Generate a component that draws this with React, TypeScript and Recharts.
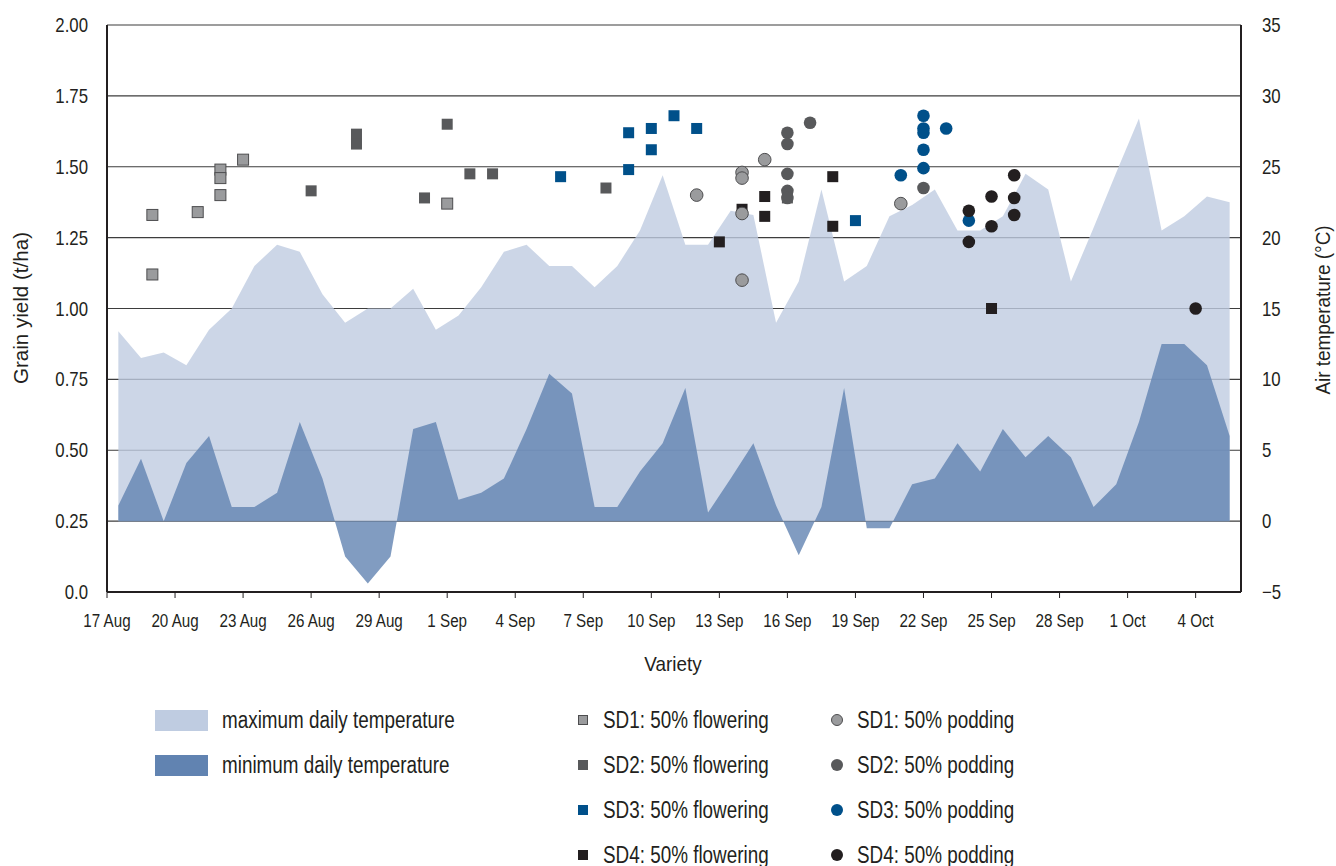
import React from 'react'
import { ComposedChart, Area, Scatter, XAxis, YAxis, CartesianGrid } from 'recharts'

const FONT = "'Liberation Sans', Arial, sans-serif"
const INK = '#231f20'

// x axis: days since 17 Aug, ticks every 3 days
const dayTicks = [0, 3, 6, 9, 12, 15, 18, 21, 24, 27, 30, 33, 36, 39, 42, 45, 48]
const dayLabels = ['17 Aug', '20 Aug', '23 Aug', '26 Aug', '29 Aug', '1 Sep', '4 Sep', '7 Sep', '10 Sep',
  '13 Sep', '16 Sep', '19 Sep', '22 Sep', '25 Sep', '28 Sep', '1 Oct', '4 Oct']
const yieldTicks = [0, 0.25, 0.5, 0.75, 1, 1.25, 1.5, 1.75, 2]
const tempTicks = [-5, 0, 5, 10, 15, 20, 25, 30, 35]

// daily temperatures (°C), 17 Aug .. 5 Oct
const maxTemp = [13.4, 11.5, 11.9, 11.0, 13.5, 15.0, 18.0, 19.5, 19.0, 16.0,
  14.0, 15.0, 15.0, 16.4, 13.5, 14.5, 16.5, 19.0, 19.5, 18.0,
  18.0, 16.5, 18.0, 20.5, 24.4, 19.5, 19.5, 21.9, 21.6, 14.0,
  16.9, 23.4, 16.9, 18.0, 21.5, 22.3, 23.4, 20.5, 20.5, 21.5,
  24.5, 23.4, 16.9, 20.7, 24.6, 28.4, 20.5, 21.5, 22.9, 22.5]
const minTemp = [1.1, 4.4, 0.0, 4.1, 6.0, 1.0, 1.0, 2.0, 7.0, 3.0,
  -2.5, -4.4, -2.5, 6.5, 7.0, 1.5, 2.0, 3.0, 6.5, 10.4,
  9.0, 1.0, 1.0, 3.5, 5.5, 9.4, 0.6, 3.0, 5.5, 1.1,
  -2.4, 1.0, 9.4, -0.5, -0.5, 2.6, 3.0, 5.5, 3.5, 6.5,
  4.5, 6.0, 4.5, 1.0, 2.6, 7.0, 12.5, 12.5, 11.0, 6.0]

// grain yield points: [day, t/ha]
const sd1Flowering = [[2, 1.33], [2, 1.12], [4, 1.34], [5, 1.49], [5, 1.46], [5, 1.40], [6, 1.525], [15, 1.37]]
const sd2Flowering = [[9, 1.415], [11, 1.615], [11, 1.58], [14, 1.39], [15, 1.65], [16, 1.475], [17, 1.475], [22, 1.425], [30, 1.39]]
const sd3Flowering = [[20, 1.465], [23, 1.62], [23, 1.49], [24, 1.635], [24, 1.56], [25, 1.68], [26, 1.635], [33, 1.31]]
const sd4Flowering = [[27, 1.235], [28, 1.35], [29, 1.395], [29, 1.325], [32, 1.465], [32, 1.29], [39, 1.0]]
const sd1Podding = [[26, 1.40], [28, 1.48], [28, 1.46], [28, 1.335], [28, 1.10], [29, 1.525], [35, 1.37]]
const sd2Podding = [[30, 1.62], [30, 1.58], [30, 1.475], [30, 1.415], [30, 1.39], [31, 1.655], [36, 1.425]]
const sd3Podding = [[35, 1.47], [36, 1.68], [36, 1.635], [36, 1.62], [36, 1.56], [36, 1.495], [37, 1.635], [38, 1.31]]
const sd4Podding = [[38, 1.345], [38, 1.235], [39, 1.395], [39, 1.29], [40, 1.47], [40, 1.39], [40, 1.33], [48, 1.0]]

const areaData = maxTemp.map((v, i) => ({ d: i + 0.5, max: v, min: minTemp[i] }))
const pts = (arr: number[][]) => arr.map(([d, y]) => ({ d, y }))

const C1 = '#9a9b9d', C2 = '#58595b', C3 = '#00508a', C4 = '#231f20'

const square = (fill: string, stroke?: string) => (p: any) =>
  <rect x={p.cx - 5.5} y={p.cy - 5.5} width={11} height={11} fill={fill} stroke={stroke ?? 'none'} strokeWidth={1} />
const dot = (fill: string, stroke?: string) => (p: any) =>
  <circle cx={p.cx} cy={p.cy} r={6.3} fill={fill} stroke={stroke ?? 'none'} strokeWidth={1} />

const flowering = [
  { name: 'SD1: 50% flowering', data: sd1Flowering, fill: C1, stroke: '#4d4d4f' },
  { name: 'SD2: 50% flowering', data: sd2Flowering, fill: C2 },
  { name: 'SD3: 50% flowering', data: sd3Flowering, fill: C3 },
  { name: 'SD4: 50% flowering', data: sd4Flowering, fill: C4 },
]
const podding = [
  { name: 'SD1: 50% podding', data: sd1Podding, fill: C1, stroke: '#4d4d4f' },
  { name: 'SD2: 50% podding', data: sd2Podding, fill: C2 },
  { name: 'SD3: 50% podding', data: sd3Podding, fill: C3 },
  { name: 'SD4: 50% podding', data: sd4Podding, fill: C4 },
]

// condensed look: narrow the text horizontally
const txt = (x: number, y: number, s: string, opts: { anchor: string; size: number; sx: number; dy?: string; rot?: number }) => (
  <text transform={`translate(${x},${y})${opts.rot ? ` rotate(${opts.rot})` : ''} scale(${opts.sx},1)`}
    textAnchor={opts.anchor} dy={opts.dy ?? '0'} fontSize={opts.size} fontFamily={FONT} fill={INK}>{s}</text>
)

const xTick = (p: any) => txt(p.x, p.y, dayLabels[dayTicks.indexOf(p.payload.value)] ?? '', { anchor: 'middle', size: 19, sx: 0.8, dy: '0.71em' })
const leftTick = (p: any) => txt(p.x, p.y, p.payload.value === 0 ? '0.0' : Number(p.payload.value).toFixed(2), { anchor: 'end', size: 20, sx: 0.84, dy: '0.355em' })
const rightTick = (p: any) => txt(p.x, p.y, p.payload.value < 0 ? '\u2212' + Math.abs(p.payload.value) : String(p.payload.value), { anchor: 'start', size: 20, sx: 0.84, dy: '0.355em' })

const legendText: React.CSSProperties = {
  position: 'absolute', fontFamily: FONT, fontSize: 23, color: INK, lineHeight: '26px', whiteSpace: 'nowrap',
  transform: 'scaleX(0.82)', transformOrigin: 'left center',
}

export default function App() {
  return (
    <div style={{ position: 'absolute', left: 0, top: 0, width: 1336, height: 866, background: '#fff' }}>
      <ComposedChart width={1336} height={690} data={areaData} margin={{ top: 25, right: 0, left: 0, bottom: 0 }}>
        <CartesianGrid horizontal vertical={false} yAxisId="left" stroke="#3d3d3d" strokeWidth={1.2} />
        <XAxis dataKey="d" type="number" domain={[0, 50]} ticks={dayTicks} allowDataOverflow
          height={98} tickSize={6} tickMargin={16} tick={xTick}
          axisLine={{ stroke: INK, strokeWidth: 2 }} tickLine={{ stroke: INK }}
          label={() => txt(673, 671, 'Variety', { anchor: 'middle', size: 21, sx: 0.9 })} />
        <XAxis xAxisId="top" orientation="top" type="number" domain={[0, 50]} height={0}
          tick={false} tickLine={false} axisLine={{ stroke: INK, strokeWidth: 2 }} />
        <YAxis yAxisId="left" dataKey="y" type="number" domain={[0, 2]} ticks={yieldTicks} width={107}
          tickSize={0} tickMargin={19} tick={leftTick} tickLine={false}
          axisLine={{ stroke: INK, strokeWidth: 2 }}
          label={() => txt(28, 308, 'Grain yield (t/ha)', { anchor: 'middle', size: 21, sx: 0.98, rot: -90 })} />
        <YAxis yAxisId="right" orientation="right" type="number" domain={[-5, 35]} ticks={tempTicks} width={95}
          tickSize={0} tickMargin={21} tick={rightTick} tickLine={false}
          axisLine={{ stroke: INK, strokeWidth: 2 }}
          label={() => txt(1330, 310, 'Air temperature (°C)', { anchor: 'middle', size: 21, sx: 0.9, rot: -90 })} />
        <Area yAxisId="right" dataKey="max" type="linear" baseValue={0} fill="#bfcce1" fillOpacity={0.8}
          stroke="none" isAnimationActive={false} />
        <Area yAxisId="right" dataKey="min" type="linear" baseValue={0} fill="#6183b1" fillOpacity={0.8}
          stroke="none" isAnimationActive={false} />
        {flowering.map(s => (
          <Scatter key={s.name} yAxisId="left" name={s.name} data={pts(s.data)} shape={square(s.fill, s.stroke)} isAnimationActive={false} />
        ))}
        {podding.map(s => (
          <Scatter key={s.name} yAxisId="left" name={s.name} data={pts(s.data)} shape={dot(s.fill, s.stroke)} isAnimationActive={false} />
        ))}
      </ComposedChart>

      {/* legend */}
      <div style={{ position: 'absolute', left: 155, top: 710, width: 53, height: 21, background: '#bfcce1' }} />
      <div style={{ ...legendText, left: 222, top: 707 }}>maximum daily temperature</div>
      <div style={{ position: 'absolute', left: 155, top: 755, width: 53, height: 21, background: '#6183b1' }} />
      <div style={{ ...legendText, left: 222, top: 752 }}>minimum daily temperature</div>
      {flowering.map((s, i) => (
        <React.Fragment key={s.name}>
          <div style={{ position: 'absolute', left: 578, top: 715 + i * 45, width: 10, height: 10, background: s.fill, boxSizing: 'border-box', border: s.stroke ? `1px solid ${s.stroke}` : 'none' }} />
          <div style={{ ...legendText, left: 603, top: 707 + i * 45 }}>{s.name}</div>
        </React.Fragment>
      ))}
      {podding.map((s, i) => (
        <React.Fragment key={s.name}>
          <div style={{ position: 'absolute', left: 831, top: 714 + i * 45, width: 12, height: 12, borderRadius: 6, background: s.fill, boxSizing: 'border-box', border: s.stroke ? `1px solid ${s.stroke}` : 'none' }} />
          <div style={{ ...legendText, left: 857, top: 707 + i * 45 }}>{s.name}</div>
        </React.Fragment>
      ))}
    </div>
  )
}
